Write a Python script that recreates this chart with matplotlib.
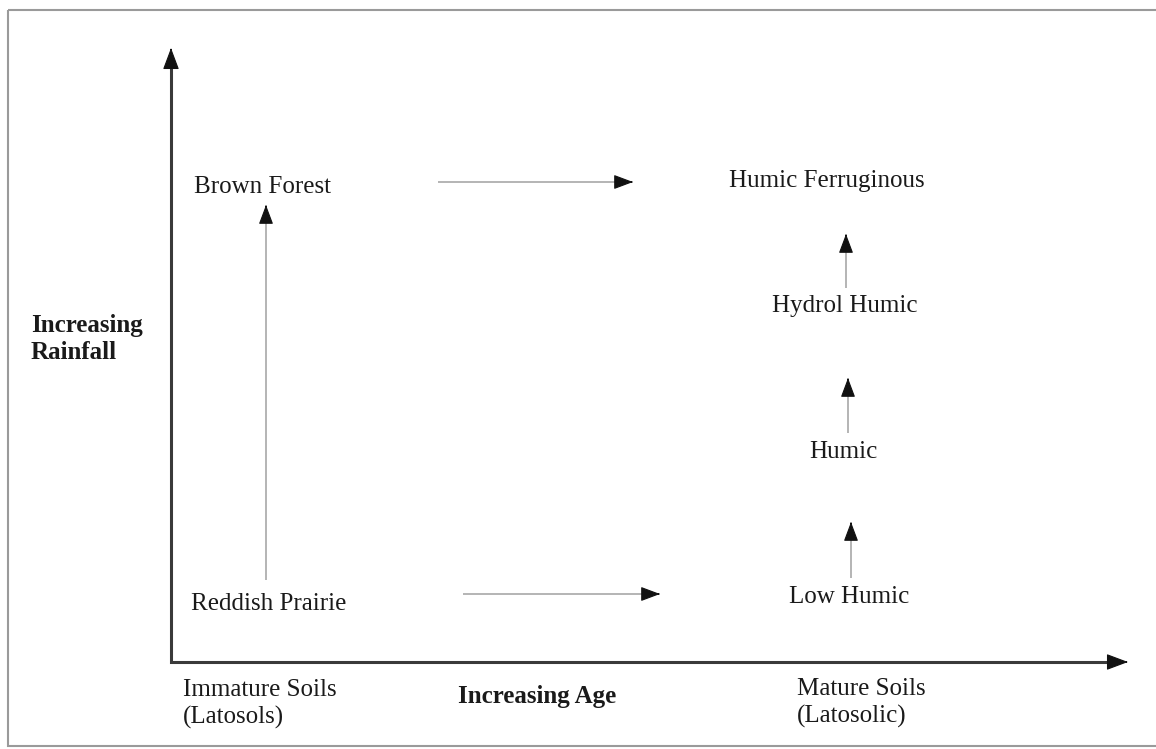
import matplotlib.pyplot as plt
from matplotlib.patches import Rectangle

plt.rcParams['font.family'] = ['Liberation Serif', 'DejaVu Serif']

# soil types placed by age (x) and rainfall (y), in picture units
soil_names = ['Brown Forest', 'Humic Ferruginous', 'Hydrol Humic',
              'Humic', 'Low Humic', 'Reddish Prairie']
soil_age = [263, 827, 845, 843, 849, 269]
soil_rain = [187, 181, 306, 452, 597, 604]

# development arrows: start and end points
arrow_x0 = [266, 438, 463, 846, 848, 851]
arrow_y0 = [580, 182, 594, 288, 433, 578]
arrow_x1 = [266, 633, 660, 846, 848, 851]
arrow_y1 = [205, 182, 594, 234, 378, 522]

# axis frame
origin = (171, 662)
x_end = 1128
y_end = 48


def draw_head(ax, x0, y0, x1, y1, scale):
    dx, dy = x1 - x0, y1 - y0
    n = (dx ** 2 + dy ** 2) ** 0.5
    ax.annotate('', xy=(x1, y1), xytext=(x1 - dx / n * 2, y1 - dy / n * 2),
                arrowprops=dict(arrowstyle='-|>,head_length=0.8,head_width=0.3',
                                color='#111111', lw=0.8, mutation_scale=scale,
                                shrinkA=0, shrinkB=0))


def draw_arrow(ax, x0, y0, x1, y1, shaft_color, lw, scale):
    ax.plot([x0, x1], [y0, y1], color=shaft_color, lw=lw, solid_capstyle='butt')
    draw_head(ax, x0, y0, x1, y1, scale)


fig = plt.figure(figsize=(11.56, 7.49), dpi=100)
ax = fig.add_axes([0, 0, 1, 1])
ax.set_xlim(0, 1156)
ax.set_ylim(749, 0)
ax.axis('off')

ax.add_patch(Rectangle((8, 10), 1200, 736, fill=False, edgecolor='#9a9a9a', lw=1.5))

# main axes
ax.plot([origin[0], origin[0], x_end - 8], [y_end + 8, origin[1], origin[1]],
        color='#3a3a3a', lw=2.2, solid_joinstyle='miter')
draw_head(ax, origin[0], origin[1], x_end, origin[1], 17)
draw_head(ax, origin[0], origin[1], origin[0], y_end, 17)

for x0, y0, x1, y1 in zip(arrow_x0, arrow_y0, arrow_x1, arrow_y1):
    draw_arrow(ax, x0, y0, x1, y1, '#a8a8a8', 1.2, 15)

for name, x, y in zip(soil_names, soil_age, soil_rain):
    ax.text(x, y, name, fontsize=18, ha='center', va='center', color='#1a1a1a')

ax.text(183, 704, 'Immature Soils\n(Latosols)', fontsize=18, ha='left', va='center',
        color='#1a1a1a', linespacing=1.27)
ax.text(797, 703, 'Mature Soils\n(Latosolic)', fontsize=18, ha='left', va='center',
        color='#1a1a1a', linespacing=1.27)
ax.text(537, 697, 'Increasing Age', fontsize=18, fontweight='bold', ha='center',
        va='center', color='#1a1a1a')
ax.text(31, 339, 'Increasing\nRainfall', fontsize=18, fontweight='bold', ha='left',
        va='center', color='#1a1a1a', linespacing=1.27)

fig.savefig('out.png', dpi=100, facecolor='white')
